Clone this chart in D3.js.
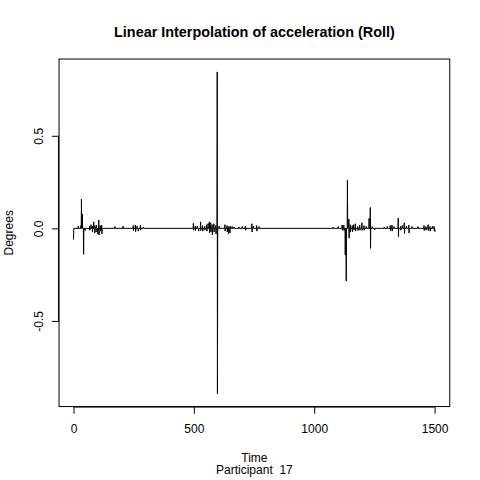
<!DOCTYPE html>
<html>
<head>
<meta charset="utf-8">
<script src="https://cdn.jsdelivr.net/npm/d3@7"></script>
<style>
  html, body { margin: 0; padding: 0; background: #fff; }
  text { font-family: "Liberation Sans", Arial, sans-serif; fill: #000; }
</style>
</head>
<body>
<svg id="chart" width="480" height="480"></svg>
<script>
// ---- data (time, roll acceleration in degrees) ----
const segment1 = [
  [0,-0.06],[1,0],
  [19,0],[20,0.012],[21,0],
  [30,0],[31,0.015],[32,0],[33,0.158],[34,0],[36,0],[37,0.077],[38,0],[41,0],[42,-0.14],[43,0],
  [47,0],[48,-0.012],[49,0],
  [66,0],[67,0.012],[68,-0.01],[69,0],
  [72,0],[73,0.02],[74,0],
  [77,0],[78,0.012],[79,-0.018],[80,0],
  [83,0],[84,0.035],[85,0],[87,0],[88,-0.025],[89,0.015],[90,0],
  [93,0],[94,-0.02],[95,0.018],[96,0],
  [100,0],[101,-0.03],[102,0],[104,0],[105,0.045],[106,-0.036],[107,0],
  [110,0],[111,0.015],[112,-0.015],[113,0],
  [116,0],[117,0.018],[118,-0.03],[119,0],
  [171,0],[172,0.01],[173,0],
  [205,0],[206,0.012],[207,0],
  [247,0],[248,0.015],[249,-0.012],[250,0],
  [256,0],[257,0.018],[258,-0.018],[259,0],
  [263,0],[264,0.012],[265,0],[268,0],[269,-0.015],[270,0],
  [277,0],[278,0.018],[279,-0.01],[280,0],
  [289,0],[290,0.008],[291,0]
];
const segment2 = [
  [497,0],[498,0.027],[499,-0.01],[500,0],
  [505,0],[506,0.012],[507,-0.012],[508,0],
  [513,0],[514,0.012],[515,0],[519,0],[520,-0.015],[521,0],
  [527,0],[528,0.035],[529,-0.012],[530,0],
  [535,0],[536,0.015],[537,-0.015],[538,0],
  [544,0],[545,0.012],[546,-0.01],[547,0],
  [552,0],[553,0.02],[554,-0.015],[555,0],
  [558,0],[559,0.025],[560,0],[563,0],[564,0.035],[565,-0.025],[566,0],
  [569,0],[570,0.03],[571,-0.02],[572,0],
  [575,0],[576,0.02],[577,-0.035],[578,0],
  [582,0],[583,0.025],[584,-0.02],[585,0],
  [590,0],[591,0.015],[592,-0.03],[593,0],
  [596,0],[597,0.845],[598,-0.893],[599,0],
  [604,0],[605,0.012],[606,0],
  [628,0],[629,0.02],[630,-0.015],[631,0],
  [637,0],[638,0.015],[639,-0.02],[640,0],
  [643,0],[644,-0.03],[645,0.01],[646,0],
  [649,0],[650,-0.025],[651,0.012],[652,0],
  [658,0],[659,0.01],[660,0],
  [666,0],[667,0.008],[668,0],
  [686,0],[687,0.008],[688,0],
  [700,0],[701,0.01],[702,0],
  [713,0],[714,0.012],[715,-0.01],[716,0],
  [740,0],[741,0.025],[742,-0.02],[743,0],
  [746,0],[747,0.012],[748,0],
  [760,0],[761,0.015],[762,-0.015],[763,0],
  [770,0],[771,0.01],[772,0]
];
const segment3 = [
  [1078,0],[1079,0.006],[1080,0],
  [1099,0],[1100,0.01],[1101,0],
  [1115,0],[1116,0.018],[1117,-0.01],[1118,0],
  [1122,0],[1123,0.018],[1124,-0.012],[1125,0],
  [1128,0],[1129,-0.144],[1130,0],[1132,0],[1133,-0.285],[1134,0],
  [1137,0],[1138,0.26],[1139,0],
  [1143,0],[1144,0.05],[1145,-0.053],[1146,0],
  [1149,0],[1150,0.02],[1151,-0.02],[1152,0],
  [1157,0],[1158,0.015],[1159,-0.018],[1160,0],
  [1163,0],[1164,0.02],[1165,-0.01],[1166,0],
  [1170,0],[1171,0.025],[1172,-0.015],[1173,0],
  [1180,0],[1181,0.01],[1182,-0.012],[1183,0],
  [1188,0],[1189,0.018],[1190,-0.01],[1191,0],
  [1197,0],[1198,0.03],[1199,-0.012],[1200,0],
  [1206,0],[1207,0.015],[1208,-0.01],[1209,0],
  [1215,0],[1216,0.01],[1217,0],
  [1227,0],[1228,0.054],[1229,0],[1232,0],[1233,0.113],[1234,-0.108],[1235,0],
  [1240,0],[1241,0.01],[1242,0],
  [1250,0],[1251,-0.008],[1252,0],
  [1290,0],[1291,0.006],[1292,0],
  [1303,0],[1304,0.01],[1305,0],
  [1315,0],[1316,0.015],[1317,-0.012],[1318,0],
  [1322,0],[1323,0.018],[1324,-0.015],[1325,0],
  [1330,0],[1331,0.01],[1332,0],
  [1348,0],[1349,0.055],[1350,-0.045],[1351,0],
  [1358,0],[1359,0.012],[1360,-0.01],[1361,0],
  [1365,0],[1366,0.015],[1367,0],
  [1373,0],[1374,0.03],[1375,-0.028],[1376,0],
  [1382,0],[1383,0.012],[1384,0],
  [1392,0],[1393,0.018],[1394,-0.025],[1395,0],
  [1405,0],[1406,0.01],[1407,0],
  [1430,0],[1431,0.01],[1432,0],
  [1455,0],[1456,0.015],[1457,-0.012],[1458,0],
  [1463,0],[1464,0.01],[1465,-0.01],[1466,0],
  [1472,0],[1473,0.02],[1474,-0.012],[1475,0],
  [1480,0],[1481,0.01],[1482,-0.015],[1483,0],
  [1490,0],[1491,0.012],[1492,0],
  [1497,0],[1498,0.01],[1499,-0.015],[1500,0],[1502,-0.018],[1503,-0.018]
];
const xTicks = [0, 500, 1000, 1500];
const yTicks = [-0.5, 0.0, 0.5];
const yTickLabels = ["-0.5", "0.0", "0.5"];
const titleText = "Linear Interpolation of acceleration (Roll)";
const xLabel = "Time";
const subLabel = "Participant  17";
const yLabel = "Degrees";

// ---- layout (R default plot region in a 480x480 device) ----
const plotLeft = 59.04, plotRight = 449.76, plotTop = 59.04, plotBottom = 406.56;

const series = segment1.concat(segment2, segment3);
const xExt = d3.extent(series, d => d[0]);
const yExt = d3.extent(series, d => d[1]);
const xPad = (xExt[1] - xExt[0]) * 0.04;
const yPad = (yExt[1] - yExt[0]) * 0.04;

const x = d3.scaleLinear().domain([xExt[0] - xPad, xExt[1] + xPad]).range([plotLeft, plotRight]);
const y = d3.scaleLinear().domain([yExt[0] - yPad, yExt[1] + yPad]).range([plotBottom, plotTop]);

const svg = d3.select("#chart");

// series line
svg.append("path")
  .datum(series)
  .attr("fill", "none")
  .attr("stroke", "#000")
  .attr("stroke-width", 1)
  .attr("d", d3.line().x(d => x(d[0])).y(d => y(d[1])));

// box
svg.append("rect")
  .attr("x", plotLeft).attr("y", plotTop)
  .attr("width", plotRight - plotLeft).attr("height", plotBottom - plotTop)
  .attr("fill", "none").attr("stroke", "#000").attr("stroke-width", 1);

// x axis (R style: line spans first to last tick)
const xAxis = d3.axisBottom(x).tickValues(xTicks).tickSize(7.2).tickSizeOuter(0).tickPadding(0)
  .tickFormat(d3.format("d"));
const gx = svg.append("g").attr("transform", `translate(0,${plotBottom})`).call(xAxis);
gx.select(".domain").remove();
gx.append("line")
  .attr("x1", x(xTicks[0])).attr("x2", x(xTicks[xTicks.length - 1]))
  .attr("y1", 0.5).attr("y2", 0.5).attr("stroke", "#000");
gx.selectAll(".tick line").attr("stroke", "#000");
gx.selectAll(".tick text")
  .attr("y", 26).attr("dy", null)
  .style("font-size", "12px").style("font-family", "Liberation Sans, Arial, sans-serif")
  .attr("fill", "#000");

// y axis
const yAxis = d3.axisLeft(y).tickValues(yTicks).tickSize(7.2).tickSizeOuter(0)
  .tickFormat((d, i) => yTickLabels[i]);
const gy = svg.append("g").attr("transform", `translate(${plotLeft},0)`).call(yAxis);
gy.select(".domain").remove();
gy.append("line")
  .attr("y1", y(yTicks[0])).attr("y2", y(yTicks[yTicks.length - 1]))
  .attr("x1", -0.5).attr("x2", -0.5).attr("stroke", "#000");
gy.selectAll(".tick line").attr("stroke", "#000");
gy.selectAll(".tick text")
  .attr("x", null).attr("dy", null)
  .attr("transform", "translate(-16.5,0) rotate(-90)")
  .attr("text-anchor", "middle")
  .style("font-size", "12px").style("font-family", "Liberation Sans, Arial, sans-serif")
  .attr("fill", "#000");

// title
svg.append("text")
  .attr("x", (plotLeft + plotRight) / 2).attr("y", 36.5)
  .attr("text-anchor", "middle")
  .style("font-size", "14.4px").style("font-weight", "bold")
  .text(titleText);

// x label + sub label
svg.append("text")
  .attr("x", (plotLeft + plotRight) / 2).attr("y", 462.3)
  .attr("text-anchor", "middle").style("font-size", "12px")
  .text(xLabel);
svg.append("text")
  .attr("x", (plotLeft + plotRight) / 2).attr("y", 474.3)
  .attr("text-anchor", "middle").style("font-size", "12px")
  .style("white-space", "pre").attr("xml:space", "preserve")
  .text(subLabel);

// y label
svg.append("text")
  .attr("transform", `translate(12.6,${(plotTop + plotBottom) / 2}) rotate(-90)`)
  .attr("text-anchor", "middle").style("font-size", "12px")
  .text(yLabel);
</script>
</body>
</html>
